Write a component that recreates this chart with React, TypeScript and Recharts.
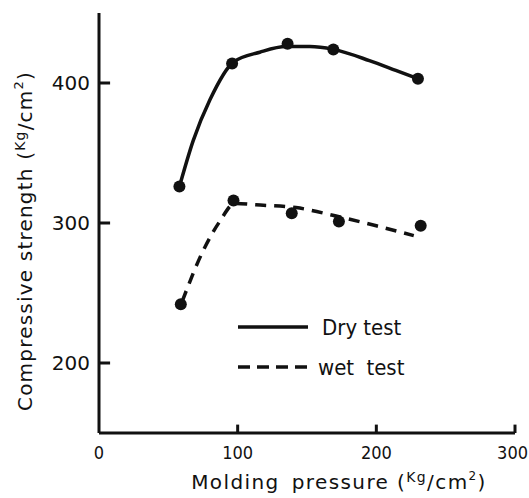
import React from "react"
import {
  ComposedChart,
  Line,
  Scatter,
  XAxis,
  YAxis,
  ReferenceLine,
} from "recharts"

const xTicks = [0, 100, 200, 300]
const yTicks = [200, 300, 400]

// measured points (molding pressure, compressive strength)
const dryPressure = [58, 96, 136, 169, 230]
const dryStrength = [326, 414, 428, 424, 403]
const wetPressure = [59, 97, 139, 173, 232]
const wetStrength = [242, 316, 307, 301, 298]

// hand-drawn fitted curves
const dryCurveX = [58, 68, 80, 97, 116, 135, 152, 169, 195, 214, 230]
const dryCurveY = [326, 359, 388, 415, 422, 426, 426, 424, 416, 409, 403]
const wetCurveX = [60, 75, 87, 98, 113, 142, 171, 200, 227]
const wetCurveY = [244, 280, 301, 314, 313, 311, 305, 298, 291]

const INK = "#111"
const FONT = "'DejaVu Sans', sans-serif"
const FONT_COND = "'DejaVu Sans Condensed', 'DejaVu Sans', sans-serif"

const zip = (xs: number[], ys: number[]) => xs.map((x, i) => ({ x, y: ys[i] }))

const dryDots = zip(dryPressure, dryStrength)
const wetDots = zip(wetPressure, wetStrength)
const dryCurve = zip(dryCurveX, dryCurveY)
const wetCurve = zip(wetCurveX, wetCurveY)

function Dot(props: any) {
  return <circle cx={props.cx} cy={props.cy} r={6} fill={INK} />
}

// last label sits against the right edge, so anchor it at its end
function XTick(props: any) {
  const { x, y, payload } = props
  const last = payload.value === xTicks[xTicks.length - 1]
  return (
    <text
      x={last ? x + 13 : x}
      y={y}
      dy="0.71em"
      textAnchor={last ? "end" : "middle"}
      fontFamily={FONT_COND}
      fontSize={18}
      fill={INK}
    >
      {payload.value}
    </text>
  )
}

function YTitle(props: any) {
  const vb = props.viewBox
  const cx = vb.x + 25
  const cy = vb.y + vb.height / 2 + 18
  return (
    <text
      x={cx}
      y={cy}
      transform={`rotate(-90 ${cx} ${cy})`}
      textAnchor="middle"
      dominantBaseline="central"
      fontFamily={FONT}
      fontSize={20}
      letterSpacing={1.2}
      fill={INK}
    >
      Compressive strength (
      <tspan fontSize={14} dy={-5}>Kg</tspan>
      <tspan dy={5}>/cm</tspan>
      <tspan fontSize={13} dy={-7}>2</tspan>
      <tspan dy={7}>)</tspan>
    </text>
  )
}

function XTitle(props: any) {
  const vb = props.viewBox
  const cx = vb.x + 240
  const cy = vb.y + 49
  return (
    <text
      x={cx}
      y={cy}
      textAnchor="middle"
      dominantBaseline="central"
      fontFamily={FONT}
      fontSize={20}
      letterSpacing={1.4}
      fill={INK}
    >
      Molding
      <tspan dx={12}>pressure (</tspan>
      <tspan fontSize={14} dy={-5}>Kg</tspan>
      <tspan dy={5}>/cm</tspan>
      <tspan fontSize={12} dy={-6}>2</tspan>
      <tspan dy={6}>)</tspan>
    </text>
  )
}

function LegendBox() {
  const row = { display: "flex", alignItems: "center", height: 40 }
  return (
    <div
      style={{
        position: "absolute",
        left: 238,
        top: 307,
        fontFamily: FONT_COND,
        fontSize: 22,
        color: INK,
      }}
    >
      <div style={row}>
        <svg width={70} height={8}>
          <line x1={0} y1={4} x2={70} y2={4} stroke={INK} strokeWidth={3.5} />
        </svg>
        <span style={{ marginLeft: 14 }}>Dry test</span>
      </div>
      <div style={row}>
        <svg width={70} height={8}>
          <line x1={0} y1={4} x2={70} y2={4} stroke={INK} strokeWidth={3.5} strokeDasharray="12 7" />
        </svg>
        <span style={{ marginLeft: 10, wordSpacing: 6 }}>wet test</span>
      </div>
    </div>
  )
}

export default function App() {
  return (
    <div style={{ position: "absolute", left: 0, top: 0, width: 529, height: 498, background: "#fff" }}>
      <ComposedChart
        width={529}
        height={498}
        margin={{ top: 13, right: 14, left: 0, bottom: 0 }}
      >
        <XAxis
          type="number"
          dataKey="x"
          domain={[0, 300]}
          ticks={xTicks}
          height={65}
          tickSize={0}
          tickLine={false}
          tickMargin={13}
          axisLine={{ stroke: INK, strokeWidth: 3 }}
          tick={<XTick />}
          label={<XTitle />}
        />
        <YAxis
          type="number"
          domain={[150, 450]}
          ticks={yTicks}
          width={99}
          tickSize={0}
          tickLine={false}
          tickMargin={9}
          axisLine={{ stroke: INK, strokeWidth: 3 }}
          tick={{ fill: INK, fontSize: 20, fontFamily: FONT }}
          label={<YTitle />}
        />
        {yTicks.map((v) => (
          <ReferenceLine
            key={"yt" + v}
            segment={[{ x: 0, y: v }, { x: 8, y: v }]}
            stroke={INK}
            strokeWidth={3}
          />
        ))}
        {xTicks.filter((v) => v > 0).map((v) => (
          <ReferenceLine
            key={"xt" + v}
            segment={[{ x: v, y: 150 }, { x: v, y: 156 }]}
            stroke={INK}
            strokeWidth={3}
          />
        ))}
        <Line
          data={dryCurve}
          dataKey="y"
          type="monotone"
          stroke={INK}
          strokeWidth={3.5}
          dot={false}
          isAnimationActive={false}
        />
        <Line
          data={wetCurve}
          dataKey="y"
          type="monotone"
          stroke={INK}
          strokeWidth={3.5}
          strokeDasharray="11 8"
          dot={false}
          isAnimationActive={false}
        />
        <Scatter data={dryDots} dataKey="y" shape={<Dot />} isAnimationActive={false} />
        <Scatter data={wetDots} dataKey="y" shape={<Dot />} isAnimationActive={false} />
      </ComposedChart>
      <LegendBox />
    </div>
  )
}
